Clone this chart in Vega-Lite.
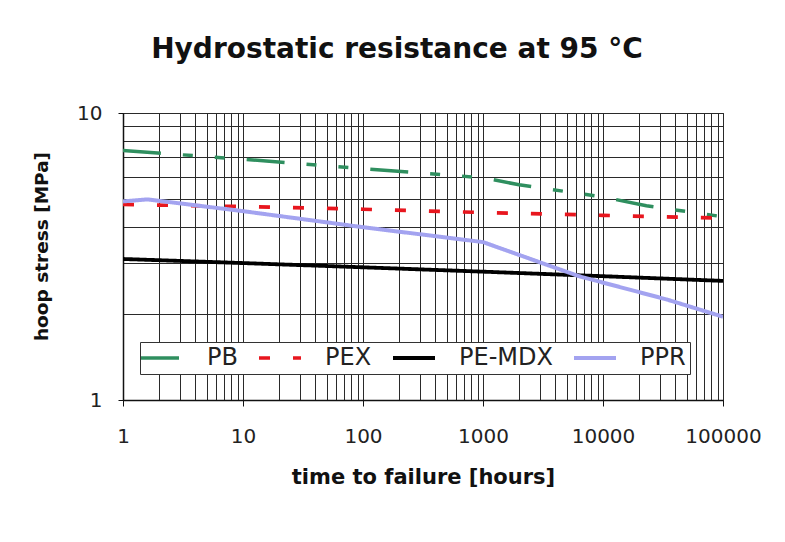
{
  "$schema": "https://vega.github.io/schema/vega-lite/v6.json",
  "width": 600,
  "height": 287,
  "autosize": {"type": "none"},
  "padding": {"left": 123, "top": 113, "right": 62, "bottom": 142},
  "background": "white",
  "title": {
    "text": "Hydrostatic resistance at 95 °C",
    "font": "DejaVu Sans",
    "fontSize": 28,
    "fontWeight": "bold",
    "color": "#111111",
    "anchor": "middle",
    "dx": -26,
    "offset": 39
  },
  "data": {
    "values": [
      {"series": "PB", "hours": 1, "stress": 7.4},
      {"series": "PB", "hours": 10, "stress": 6.9},
      {"series": "PB", "hours": 100, "stress": 6.4},
      {"series": "PB", "hours": 1000, "stress": 5.95},
      {"series": "PB", "hours": 2000, "stress": 5.62},
      {"series": "PB", "hours": 10000, "stress": 5.1},
      {"series": "PB", "hours": 23000, "stress": 4.75},
      {"series": "PB", "hours": 100000, "stress": 4.35},
      {"series": "PEX", "hours": 1, "stress": 4.8},
      {"series": "PEX", "hours": 10, "stress": 4.72},
      {"series": "PEX", "hours": 100, "stress": 4.62},
      {"series": "PEX", "hours": 1000, "stress": 4.5},
      {"series": "PEX", "hours": 10000, "stress": 4.4},
      {"series": "PEX", "hours": 100000, "stress": 4.3},
      {"series": "PE-MDX", "hours": 1, "stress": 3.1},
      {"series": "PE-MDX", "hours": 10, "stress": 3.0},
      {"series": "PE-MDX", "hours": 100, "stress": 2.9},
      {"series": "PE-MDX", "hours": 1000, "stress": 2.8},
      {"series": "PE-MDX", "hours": 10000, "stress": 2.7},
      {"series": "PE-MDX", "hours": 100000, "stress": 2.6},
      {"series": "PPR", "hours": 1, "stress": 4.92},
      {"series": "PPR", "hours": 1.6, "stress": 5.0},
      {"series": "PPR", "hours": 10, "stress": 4.55},
      {"series": "PPR", "hours": 100, "stress": 4.0},
      {"series": "PPR", "hours": 1000, "stress": 3.55},
      {"series": "PPR", "hours": 6300, "stress": 2.7},
      {"series": "PPR", "hours": 34000, "stress": 2.24},
      {"series": "PPR", "hours": 100000, "stress": 1.95}
    ]
  },
  "mark": {"type": "line", "strokeCap": "butt", "clip": true},
  "encoding": {
    "x": {
      "field": "hours",
      "type": "quantitative",
      "scale": {"type": "log", "domain": [1, 100000], "nice": false},
      "axis": {
        "values": [1,2,3,4,5,6,7,8,9,10,20,30,40,50,60,70,80,90,100,200,300,400,500,600,700,800,900,1000,2000,3000,4000,5000,6000,7000,8000,9000,10000,20000,30000,40000,50000,60000,70000,80000,90000,100000],
        "format": "d",
        "labelExpr": "indexof([1,10,100,1000,10000,100000], datum.value) >= 0 ? datum.label : ''",
        "labelOverlap": false,
        "labelFlush": false,
        "labelBound": false,
        "labelFont": "DejaVu Sans",
        "labelFontSize": 20,
        "labelColor": "#222222",
        "labelPadding": 20,
        "tickSize": 6,
        "tickColor": "#111111",
        "tickOpacity": {"condition": {"test": "indexof([1,10,100,1000,10000,100000], datum.value) >= 0", "value": 1}, "value": 0},
        "grid": true,
        "gridColor": "#2a2a2a",
        "gridWidth": 1,
        "gridOpacity": 1,
        "domainColor": "#111111",
        "domainWidth": 1.5,
        "title": "time to failure [hours]",
        "titleFont": "DejaVu Sans",
        "titleFontSize": 21,
        "titleFontWeight": "bold",
        "titleColor": "#111111",
        "titleY": 83,
        "titleBaseline": "alphabetic"
      }
    },
    "y": {
      "field": "stress",
      "type": "quantitative",
      "scale": {"type": "log", "domain": [1, 10], "nice": false},
      "axis": {
        "values": [1,2,3,4,5,6,7,8,9,10],
        "labelExpr": "datum.value == 1 || datum.value == 10 ? datum.label : ''",
        "labelOverlap": false,
        "labelFlush": false,
        "labelBound": false,
        "labelFont": "DejaVu Sans",
        "labelFontSize": 20,
        "labelColor": "#222222",
        "labelPadding": 16,
        "tickSize": 5,
        "tickColor": "#111111",
        "tickOpacity": {"condition": {"test": "datum.value == 1 || datum.value == 10", "value": 1}, "value": 0},
        "grid": true,
        "gridColor": "#2a2a2a",
        "gridWidth": 1,
        "gridOpacity": 1,
        "domainColor": "#111111",
        "domainWidth": 1.5,
        "title": "hoop stress [MPa]",
        "titleFont": "DejaVu Sans",
        "titleFontSize": 18.5,
        "titleFontWeight": "bold",
        "titleColor": "#111111",
        "titleX": -82,
        "titleY": 133,
        "titleBaseline": "middle",
        "titleAlign": "center"
      }
    },
    "color": {
      "field": "series",
      "type": "nominal",
      "scale": {"domain": ["PB", "PEX", "PE-MDX", "PPR"], "range": ["#2f8f5f", "#e8161e", "#000000", "#a3a3f0"]},
      "legend": {"title": null}
    },
    "strokeDash": {
      "field": "series",
      "type": "nominal",
      "scale": {"domain": ["PB", "PEX", "PE-MDX", "PPR"], "range": [[38, 22, 10, 22, 10, 22], [11, 23], [1, 0], [1, 0]]},
      "legend": {"title": null}
    },
    "strokeWidth": {
      "field": "series",
      "type": "nominal",
      "scale": {"domain": ["PB", "PEX", "PE-MDX", "PPR"], "range": [3.5, 4, 2, 3]},
      "legend": null
    }
  },
  "config": {
    "view": {"stroke": "#222222"},
    "legend": {
      "orient": "none",
      "legendX": 17,
      "legendY": 229,
      "direction": "horizontal",
      "columns": 4,
      "symbolType": "M-1.5,0H2.7",
      "symbolSize": 400,
      "symbolStrokeWidth": 3.5,
      "labelFont": "DejaVu Sans",
      "labelFontSize": 24,
      "labelColor": "#222222",
      "labelOffset": 39,
      "columnPadding": 13,
      "padding": 4,
      "fillColor": "white",
      "strokeColor": "#333333"
    }
  }
}
